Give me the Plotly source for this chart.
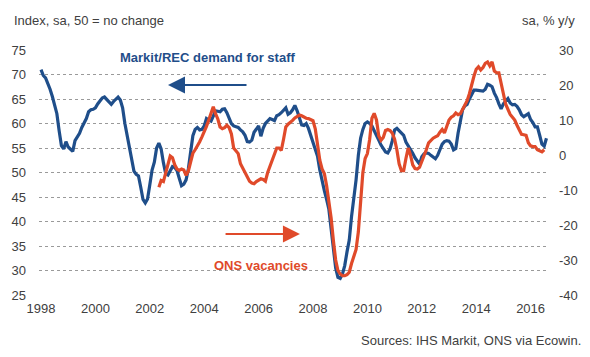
import plotly.graph_objects as go

start_year = 1998
# Markit/REC demand for staff, index (left axis), monthly from Jan 1998
demand_staff = [
    71.0, 69.8, 69.3, 68.3, 67.0, 65.5, 63.7, 62.0, 58.5, 55.5, 54.8, 56.3,
    55.2, 54.8, 54.3, 56.5, 57.2, 58.0, 59.2, 60.2, 61.0, 62.4, 62.8, 62.9,
    63.2, 64.0, 64.6, 65.2, 65.4, 64.9, 64.4, 63.9, 64.5, 65.0, 65.4, 64.8,
    63.2, 60.0, 57.5, 54.5, 52.0, 50.3, 49.6, 49.3, 47.0, 44.5, 43.8, 44.6,
    47.5, 50.5, 52.1, 55.0, 56.0, 54.8, 52.0, 49.8, 49.5, 50.4, 51.2, 51.0,
    50.4, 48.8, 47.3, 47.6, 48.5, 50.7, 53.8, 57.5, 58.8, 59.2, 58.7, 58.8,
    59.5, 61.0, 60.7, 60.5, 61.5, 62.6, 62.5, 62.4, 62.9, 63.0, 62.2, 61.2,
    60.0, 59.5, 59.4, 59.2, 58.7, 58.3, 57.6, 56.3, 56.2, 56.6, 58.2, 58.8,
    59.5, 57.4, 59.0, 60.0, 60.6, 61.0, 60.8, 60.6, 61.6, 61.8, 62.2, 62.6,
    63.2, 61.9, 62.2, 62.8, 63.7, 62.6, 61.0, 59.7, 59.6, 60.0, 59.0, 57.5,
    56.0, 54.5, 53.3, 50.5, 48.0, 46.3, 44.5, 42.5, 38.5, 34.0, 30.5, 28.6,
    28.4, 29.3, 31.0, 33.8, 36.2, 41.0, 44.5, 48.5, 53.5, 57.0, 58.8, 60.0,
    60.3, 60.0, 59.5, 58.4, 57.5, 56.6, 55.6, 54.8, 54.2, 54.0, 54.8, 56.5,
    58.7, 59.0, 58.6, 58.0, 57.6, 56.2, 55.5, 54.6, 53.9, 53.0, 52.4, 51.7,
    53.2, 53.8, 54.0, 53.9, 53.5, 53.2, 52.8, 53.5, 54.5, 55.8, 56.3, 56.5,
    56.4, 55.8, 54.6, 54.9, 58.0, 60.5, 62.8, 63.6, 63.9, 65.0, 66.0, 66.8,
    66.8, 66.7, 66.7, 66.6, 67.0, 68.0, 67.8, 67.5, 66.2, 65.3, 64.0, 63.0,
    64.0, 64.6, 65.1, 64.2, 63.8, 63.9, 63.5, 62.8, 61.8, 61.4, 61.8, 62.0,
    60.8, 60.2, 59.3, 59.3, 57.6, 55.8, 55.4, 57.0,
]

# ONS vacancies, % y/y (right axis), monthly from May 2002
ons_start_index = 52
ons_vacancies = [
    -9.2, -7.3, -7.6, -5.0, -3.0, -0.3, -0.8, -2.8,
    -4.0, -4.4, -4.0, -4.3, -5.8, -4.6, -2.0, 0.5, 1.5, 2.5, 3.8, 5.2,
    6.6, 8.2, 10.0, 12.3, 13.8, 11.8, 10.3, 8.0, 7.5, 7.8, 8.5, 7.8,
    6.0, 2.0, 1.0, 0.4, -2.5, -3.8, -4.9, -6.5, -7.5, -8.0, -8.2, -7.6,
    -7.2, -6.8, -7.0, -7.5, -5.0, -3.3, -1.5, 0.4, 2.0, 2.0, 1.3, 4.5,
    8.0, 8.8, 9.3, 9.9, 10.6, 11.0, 11.4, 11.2, 10.8, 10.5, 10.4, 10.0,
    9.8, 7.5, 2.5, -1.5, -4.0, -5.3, -8.7, -13.0, -18.0, -24.5, -30.0, -33.0,
    -34.0, -34.5, -34.5, -34.2, -33.5, -31.0, -29.0, -27.0, -22.0, -12.5, -5.0, -1.0,
    0.4, 4.5, 10.5, 11.9, 10.0, 5.5, 4.2, 5.0, 7.0, 7.3, 7.0, 6.2,
    4.5, 1.5, -2.5, -4.5, -4.5, -1.0, 2.0, 0.0, -2.8, -3.9, -4.0, -3.5,
    -2.0, 0.0, 1.5, 3.5, 4.2, 4.8, 5.2, 5.5, 6.5, 7.3, 6.3, 8.0,
    10.0, 10.8, 11.2, 12.0, 11.5, 11.8, 13.0, 14.5, 15.5, 17.5, 20.5, 22.5,
    24.5, 25.2, 24.3, 25.0, 26.2, 26.6, 25.5, 26.6, 24.0, 23.5, 23.5, 20.9,
    17.5, 14.5, 13.0, 11.6, 10.8, 10.0, 8.5, 7.0, 5.9, 5.8, 5.6, 3.5,
    2.6, 2.4, 2.4, 1.5, 1.1, 0.9, 1.5,
]

x_ticks = [1998, 2000, 2002, 2004, 2006, 2008, 2010, 2012, 2014, 2016]
left_ticks = [25, 30, 35, 40, 45, 50, 55, 60, 65, 70, 75]
right_ticks = [-40, -30, -20, -10, 0, 10, 20, 30]

BLUE = "#1F4E8A"
RED = "#E04A2A"
TXT = "#404040"
FONT = "Liberation Sans, Arial, sans-serif"

x_blue = [start_year + i / 12 for i in range(len(demand_staff))]
x_red = [start_year + (ons_start_index + i) / 12 for i in range(len(ons_vacancies))]

fig = go.Figure()
fig.add_trace(go.Scatter(x=x_red, y=ons_vacancies, yaxis="y2", mode="lines",
                         line=dict(color=RED, width=3.2), name="ONS vacancies"))
fig.add_trace(go.Scatter(x=x_blue, y=demand_staff, yaxis="y", mode="lines",
                         line=dict(color=BLUE, width=3.2), name="Markit/REC demand for staff"))

fig.update_layout(
    width=590, height=357,
    margin=dict(l=39, r=42, t=50, b=62, autoexpand=False),
    paper_bgcolor="white", plot_bgcolor="white",
    showlegend=False,
    font=dict(family=FONT, size=13, color=TXT),
    xaxis=dict(range=[1997.926, 2016.64], tickvals=x_ticks,
               ticktext=[str(t) for t in x_ticks], automargin=False,
               showgrid=False, zeroline=False, showline=False,
               ticks="", ticklabelstandoff=4,
               tickfont=dict(size=13, color=TXT)),
    yaxis=dict(range=[25, 75], tickvals=left_ticks, automargin=False,
               ticktext=[str(t) for t in left_ticks],
               showgrid=True, gridcolor="#9a9a9a", griddash="dot", gridwidth=1,
               zeroline=False, showline=False,
               ticks="", ticklabelstandoff=12,
               tickfont=dict(size=13, color=TXT)),
    yaxis2=dict(range=[-40, 30], tickvals=right_ticks, overlaying="y", side="right",
                ticktext=[str(t) for t in right_ticks], automargin=False,
                showgrid=False, zeroline=False, showline=False,
                ticks="", ticklabelstandoff=10,
                tickfont=dict(size=13, color=TXT)),
)

annotations = [
    dict(text="Index, sa, 50 = no change", xref="paper", yref="paper",
         x=-0.053, y=1.122, xanchor="left", yanchor="middle", showarrow=False,
         font=dict(size=13, color=TXT)),
    dict(text="sa, % y/y", xref="paper", yref="paper",
         x=1.057, y=1.122, xanchor="right", yanchor="middle", showarrow=False,
         font=dict(size=13, color=TXT)),
    dict(text="Sources: IHS Markit, ONS via Ecowin.", xref="paper", yref="paper",
         x=1.069, y=-0.184, xanchor="right", yanchor="middle", showarrow=False,
         font=dict(size=13, color=TXT)),
    dict(text="<b>Markit/REC demand for staff</b>", xref="x", yref="y",
         x=2000.83, y=73.37, xanchor="left", yanchor="middle", showarrow=False,
         font=dict(size=13, color=BLUE)),
    dict(text="<b>ONS vacancies</b>", xref="x", yref="y",
         x=2004.29, y=31.12, xanchor="left", yanchor="middle", showarrow=False,
         font=dict(size=13, color=RED)),
    dict(text="", xref="x", yref="y", axref="x", ayref="y",
         x=2002.67, y=67.86, ax=2005.61, ay=67.86, showarrow=True,
         arrowhead=2, arrowsize=1.7, arrowwidth=2, arrowcolor=BLUE),
    dict(text="", xref="x", yref="y", axref="x", ayref="y",
         x=2007.52, y=37.45, ax=2004.73, ay=37.45, showarrow=True,
         arrowhead=2, arrowsize=1.7, arrowwidth=2, arrowcolor=RED),
]
fig.update_layout(annotations=annotations)

fig.write_html("out.html", config={"displayModeBar": False},
               post_script="document.body.style.margin='0';document.body.style.padding='0';")
